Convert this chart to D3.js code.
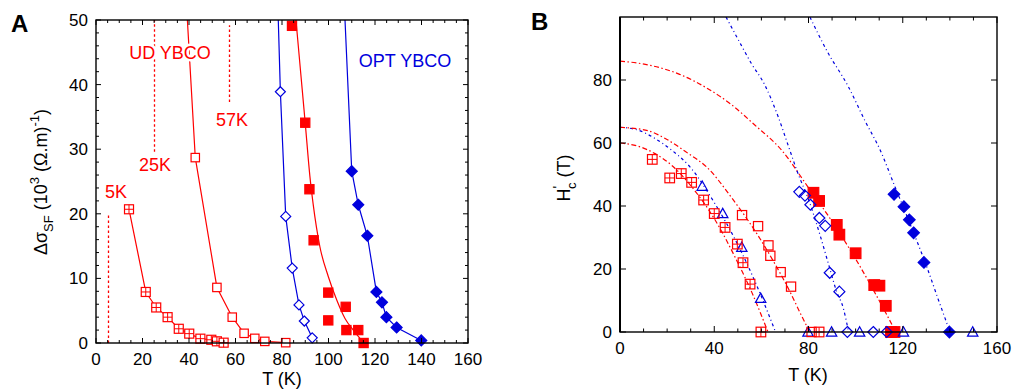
<!DOCTYPE html>
<html>
<head>
<meta charset="utf-8">
<script src="https://cdn.jsdelivr.net/npm/d3@7"></script>
<style>
  body { margin: 0; background: #fff; }
  text { font-family: Arial, "Liberation Sans", Helvetica, sans-serif; }
</style>
</head>
<body>
<svg id="chart" width="1013" height="392"></svg>
<script>
// ---- panel A data: delta sigma_SF vs T ----
const ticksAX = [0, 20, 40, 60, 80, 100, 120, 140, 160];
const ticksAY = [0, 10, 20, 30, 40, 50];

const ud5T = [14.2, 21.4, 25.9, 30.8, 35.6, 40.1, 44.9, 49.6, 52.0, 54.9];
const ud5S = [20.7, 7.9, 5.5, 4.0, 2.2, 1.45, 0.67, 0.5, 0.26, 0.05];

const ud25T = [42.7, 52.0, 58.6, 63.7, 68.3, 72.6, 81.6];
const ud25S = [28.7, 8.6, 4.0, 1.5, 0.72, 0.25, 0.05];
const ud25Top = [39.3, 50];

const udSqT = [84.3, 90.0, 91.8, 93.6, 99.9, 107.4, 99.9, 107.7, 112.8, 115.1];
const udSqS = [49.1, 34.1, 23.8, 15.9, 7.8, 5.6, 3.5, 2.0, 2.0, 0];
const udFitT = [86, 88, 90, 92, 93.4, 96.3, 99.9, 103.5, 107.1, 111.1, 114.5];
const udFitS = [50, 42, 34, 25.8, 21.5, 14.9, 10.3, 6.7, 3.8, 1.8, 0.3];

const optOT = [79.3, 81.6, 84.4, 87.3, 89.6, 93.0];
const optOS = [38.9, 19.6, 11.6, 5.9, 3.4, 0.8];
const optOTop = [78.4, 50];

const optFT = [110.0, 112.8, 116.7, 120.6, 123.0, 124.9, 129.3, 139.9];
const optFS = [26.6, 21.4, 16.6, 7.9, 6.3, 4.0, 2.4, 0.4];
const optFTop = [107.1, 50];

// dotted field markers: T, lower end, upper end
const markT = [5, 25, 57.3];
const markLo = [0, 29.6, 37.3];
const markHi = [20, 50, 49.2];

// ---- panel B data: H'c vs T ----
const ticksBX = [0, 40, 80, 120, 160];
const ticksBY = [0, 20, 40, 60, 80];

const xsqT = [13.7, 21.1, 26.0, 30.4, 35.5, 40.0, 44.6, 49.8, 52.2, 55.2, 59.8, 84.5];
const xsqH = [54.8, 48.9, 50.3, 47.5, 41.9, 37.6, 33.2, 27.9, 22.0, 15.2, 0, 0];
const osqT = [51.8, 58.6, 63.0, 63.8, 68.2, 72.6, 81.3];
const osqH = [37.1, 33.6, 27.5, 24.2, 19.0, 14.4, 0];
const triT = [34.9, 43.6, 51.7, 59.7, 79.8, 89.8, 101.7, 120.3, 149.7];
const triH = [46.3, 37.6, 26.9, 10.7, 0, 0, 0, 0, 0];
const odiaT = [76.1, 78.5, 80.8, 84.6, 87.1, 89.0, 93.1, 96.5, 107.5, 113.2];
const odiaH = [44.5, 43.3, 40.4, 36.2, 33.7, 18.8, 12.8, 0, 0, 0];
const fsqT = [82.1, 84.5, 92.0, 93.1, 100.0, 107.9, 110.1, 112.8, 115.0, 116.5];
const fsqH = [44.2, 41.6, 34.0, 30.9, 25.0, 14.9, 14.7, 8.3, 0, 0];
const fdiaT = [116.3, 120.5, 122.8, 124.6, 129.0, 139.8];
const fdiaH = [43.7, 39.8, 35.6, 31.5, 22.1, 0];

const fitR60T = [0, 7.6, 14.7, 21.8, 30, 40, 50, 56, 62.8];
const fitR60H = [60, 59, 56.7, 53, 46.5, 36, 22, 12.5, 0];
const fitB65T = [0, 7.6, 14.7, 21.8, 29.6, 40, 50, 58, 62, 66];
const fitB65H = [65, 64.1, 61.5, 57.8, 52.5, 41.1, 27.7, 14.8, 7.6, 0];
const fitR65T = [0, 11.9, 19, 28.9, 36.6, 48, 58, 66, 72, 76.5, 80.5];
const fitR65H = [65, 63.9, 61.5, 56.7, 52.5, 42, 31.3, 21.3, 13, 6, 0];
const fitR86T = [0, 11.9, 25.3, 36.5, 47.1, 57.2, 68.5, 80, 90, 100, 108, 113, 117];
const fitR86H = [86, 84.8, 81.8, 77.6, 72.3, 65.7, 57.8, 45.8, 35.1, 23.2, 12.7, 5.8, 0];
const fitB127T = [45, 51.2, 55.7, 61.4, 67.1, 71.3, 75, 80.6, 85, 88.4, 92, 94.8, 97];
const fitB127H = [100, 91.4, 85.3, 78.5, 68.4, 59.4, 51.4, 40.8, 30.5, 21.8, 12.7, 7.5, 0];
const fitB149T = [80.6, 88, 96.9, 104, 110.4, 116.7, 123, 130.2, 135, 138.7, 140];
const fitB149H = [100, 89, 77.9, 67, 57.8, 46.1, 34.5, 20.7, 10.5, 2.8, 0];

const RED = '#ff0000';
const BLUE = '#0000dd';

const svg = d3.select('#chart');
const zip = (a, b) => a.map((v, i) => [v, b[i]]);

function marker(g, type, px, py, r, color, fill) {
  if (type === 'sq' || type === 'xsq') {
    g.append('rect').attr('x', px - r).attr('y', py - r).attr('width', 2 * r).attr('height', 2 * r)
      .attr('fill', fill).attr('stroke', color).attr('stroke-width', 1.2);
    if (type === 'xsq') {
      g.append('path').attr('d', `M${px - r},${py}H${px + r}M${px},${py - r}V${py + r}`)
        .attr('stroke', color).attr('stroke-width', 1);
    }
  } else if (type === 'dia') {
    g.append('path').attr('d', `M${px},${py - r}L${px + r},${py}L${px},${py + r}L${px - r},${py}Z`)
      .attr('fill', fill).attr('stroke', color).attr('stroke-width', 1.2);
  } else if (type === 'tri') {
    g.append('path').attr('d', `M${px},${py - r}L${px + r},${py + r * 0.8}L${px - r},${py + r * 0.8}Z`)
      .attr('fill', fill).attr('stroke', color).attr('stroke-width', 1.2);
  }
}

function frame(g, x, y, xMinor, yMinor, xMajor, yMajor, majLen, minLen) {
  const [x0, x1] = x.range(), [y0, y1] = y.range();
  const tk = g.append('g').attr('stroke', '#000').attr('stroke-width', 1);
  xMinor.forEach(v => {
    const L = xMajor.includes(v) ? majLen : minLen;
    tk.append('line').attr('x1', x(v)).attr('x2', x(v)).attr('y1', y0).attr('y2', y0 - L);
    tk.append('line').attr('x1', x(v)).attr('x2', x(v)).attr('y1', y1).attr('y2', y1 + L);
  });
  yMinor.forEach(v => {
    const L = yMajor.includes(v) ? majLen : minLen;
    tk.append('line').attr('y1', y(v)).attr('y2', y(v)).attr('x1', x0).attr('x2', x0 + L);
    tk.append('line').attr('y1', y(v)).attr('y2', y(v)).attr('x1', x1).attr('x2', x1 - L);
  });
  g.append('rect').attr('x', x0).attr('y', y1).attr('width', x1 - x0).attr('height', y0 - y1)
    .attr('fill', 'none').attr('stroke', '#000').attr('stroke-width', 1.4);
}

function tickLabels(g, x, y, xt, yt) {
  g.selectAll(null).data(xt).enter().append('text')
    .attr('x', d => x(d)).attr('y', y.range()[0] + 22)
    .attr('text-anchor', 'middle').attr('font-size', 17).text(d => d);
  g.selectAll(null).data(yt).enter().append('text')
    .attr('x', x.range()[0] - 8).attr('y', d => y(d) + 6)
    .attr('text-anchor', 'end').attr('font-size', 17).text(d => d);
}

// ================= Panel A =================
const xA = d3.scaleLinear().domain([0, 160]).range([96, 468]);
const yA = d3.scaleLinear().domain([0, 50]).range([343, 20]);
const gA = svg.append('g');

svg.append('clipPath').attr('id', 'clipA').append('rect')
  .attr('x', 96).attr('y', 20).attr('width', 372).attr('height', 323);
const plotA = gA.append('g').attr('clip-path', 'url(#clipA)');

const lineA = d3.line().x(d => xA(d[0])).y(d => yA(d[1]));
const smoothA = d3.line().x(d => xA(d[0])).y(d => yA(d[1])).curve(d3.curveMonotoneX);

// dotted field markers (snapped to the pixel grid so they stay clearly red)
markT.forEach((t, i) => {
  const px = Math.round(xA(t)) + 0.5;
  plotA.append('line').attr('x1', px).attr('x2', px).attr('y1', yA(markLo[i])).attr('y2', yA(markHi[i]))
    .attr('stroke', RED).attr('stroke-width', 1.3).attr('stroke-dasharray', '2.5,2.5');
});

plotA.append('path').attr('d', lineA(zip(ud5T, ud5S))).attr('fill', 'none').attr('stroke', RED).attr('stroke-width', 1.2);
plotA.append('path').attr('d', lineA([ud25Top].concat(zip(ud25T, ud25S)))).attr('fill', 'none').attr('stroke', RED).attr('stroke-width', 1.2);
plotA.append('path').attr('d', smoothA(zip(udFitT, udFitS))).attr('fill', 'none').attr('stroke', RED).attr('stroke-width', 1.2);
plotA.append('path').attr('d', lineA([optOTop].concat(zip(optOT, optOS)))).attr('fill', 'none').attr('stroke', BLUE).attr('stroke-width', 1.2);
plotA.append('path').attr('d', lineA([optFTop].concat(zip(optFT, optFS)))).attr('fill', 'none').attr('stroke', BLUE).attr('stroke-width', 1.2);

// annotation text (white halo hides the line beneath)
const annA = gA.append('g').attr('font-size', 18);
annA.append('text').attr('x', 170).attr('y', 59).attr('text-anchor', 'middle').attr('fill', RED)
  .attr('stroke', '#fff').attr('stroke-width', 5).attr('paint-order', 'stroke').text('UD YBCO');
annA.append('text').attr('x', 155).attr('y', 171).attr('text-anchor', 'middle').attr('fill', RED).text('25K');
annA.append('text').attr('x', 232).attr('y', 126).attr('text-anchor', 'middle').attr('fill', RED).text('57K');
annA.append('text').attr('x', 116).attr('y', 198).attr('text-anchor', 'middle').attr('fill', RED).text('5K');
annA.append('text').attr('x', 405).attr('y', 67).attr('text-anchor', 'middle').attr('fill', BLUE).text('OPT YBCO');

const mA = gA.append('g');
ud5T.forEach((t, i) => marker(mA, 'xsq', xA(t), yA(ud5S[i]), 4.5, RED, '#fff'));
ud25T.forEach((t, i) => marker(mA, 'sq', xA(t), yA(ud25S[i]), 4.2, RED, '#fff'));
udSqT.forEach((t, i) => marker(mA, 'sq', xA(t), yA(udSqS[i]), 4.6, RED, RED));
optOT.forEach((t, i) => marker(mA, 'dia', xA(t), yA(optOS[i]), 5, BLUE, '#fff'));
optFT.forEach((t, i) => marker(mA, 'dia', xA(t), yA(optFS[i]), 5.5, BLUE, BLUE));

frame(gA, xA, yA, d3.range(0, 161, 5), d3.range(0, 51, 2), ticksAX, ticksAY, 5, 3);
tickLabels(gA, xA, yA, ticksAX, ticksAY);

gA.append('text').attr('x', 282).attr('y', 385).attr('text-anchor', 'middle').attr('font-size', 18).text('T (K)');
const ylA = gA.append('text').attr('transform', 'translate(47,182) rotate(-90)')
  .attr('text-anchor', 'middle').attr('font-size', 18);
ylA.append('tspan').text('Δσ');
ylA.append('tspan').attr('dy', 6).attr('font-size', 13).text('SF');
ylA.append('tspan').attr('dy', -6).text(' (10');
ylA.append('tspan').attr('dy', -8).attr('font-size', 13).text('3');
ylA.append('tspan').attr('dy', 8).text(' (Ω.m)');
ylA.append('tspan').attr('dy', -8).attr('font-size', 13).text('-1');
ylA.append('tspan').attr('dy', 8).text(')');

gA.append('text').attr('x', 11).attr('y', 32).attr('font-size', 24).attr('font-weight', 'bold').text('A');

// ================= Panel B =================
const xB = d3.scaleLinear().domain([0, 160]).range([620, 997]);
const yB = d3.scaleLinear().domain([0, 100]).range([332, 17]);
const gB = svg.append('g');

svg.append('clipPath').attr('id', 'clipB').append('rect')
  .attr('x', 620).attr('y', 17).attr('width', 377).attr('height', 315);
const plotB = gB.append('g').attr('clip-path', 'url(#clipB)');
const smoothB = d3.line().x(d => xB(d[0])).y(d => yB(d[1])).curve(d3.curveMonotoneX);

const fits = [
  [fitR60T, fitR60H, RED], [fitB65T, fitB65H, BLUE], [fitR65T, fitR65H, RED],
  [fitR86T, fitR86H, RED], [fitB127T, fitB127H, BLUE], [fitB149T, fitB149H, BLUE]
];
fits.forEach(([t, h, c]) => {
  plotB.append('path').attr('d', smoothB(zip(t, h))).attr('fill', 'none').attr('stroke', c)
    .attr('stroke-width', 1.2).attr('stroke-dasharray', c === RED ? '5,2.5,1.5,2.5' : '3,3,1,3');
});

const mB = gB.append('g');
fsqT.forEach((t, i) => marker(mB, 'sq', xB(t), yB(fsqH[i]), 5.3, RED, RED));
fdiaT.forEach((t, i) => marker(mB, 'dia', xB(t), yB(fdiaH[i]), 5.8, BLUE, BLUE));
odiaT.forEach((t, i) => marker(mB, 'dia', xB(t), yB(odiaH[i]), 5.5, BLUE, 'none'));
triT.forEach((t, i) => marker(mB, 'tri', xB(t), yB(triH[i]), 5.2, BLUE, 'none'));
osqT.forEach((t, i) => marker(mB, 'sq', xB(t), yB(osqH[i]), 4.6, RED, 'none'));
xsqT.forEach((t, i) => marker(mB, 'xsq', xB(t), yB(xsqH[i]), 4.8, RED, 'none'));

frame(gB, xB, yB, d3.range(0, 161, 10), ticksBY, ticksBX, ticksBY, 6, 3.5);
gB.append('line').attr('x1', 620).attr('x2', 620).attr('y1', 17).attr('y2', 332).attr('stroke', '#000').attr('stroke-width', 2);
tickLabels(gB, xB, yB, ticksBX, ticksBY);

gB.append('text').attr('x', 808).attr('y', 381).attr('text-anchor', 'middle').attr('font-size', 18).text('T (K)');
const ylB = gB.append('text').attr('transform', 'translate(570,178) rotate(-90)')
  .attr('text-anchor', 'middle').attr('font-size', 18);
ylB.append('tspan').text('H');
ylB.append('tspan').attr('dy', -7).attr('font-size', 14).text("'");
ylB.append('tspan').attr('dx', -3).attr('dy', 13).attr('font-size', 13).text('c');
ylB.append('tspan').attr('dy', -6).text(' (T)');

gB.append('text').attr('x', 531).attr('y', 30).attr('font-size', 24).attr('font-weight', 'bold').text('B');
</script>
</body>
</html>
